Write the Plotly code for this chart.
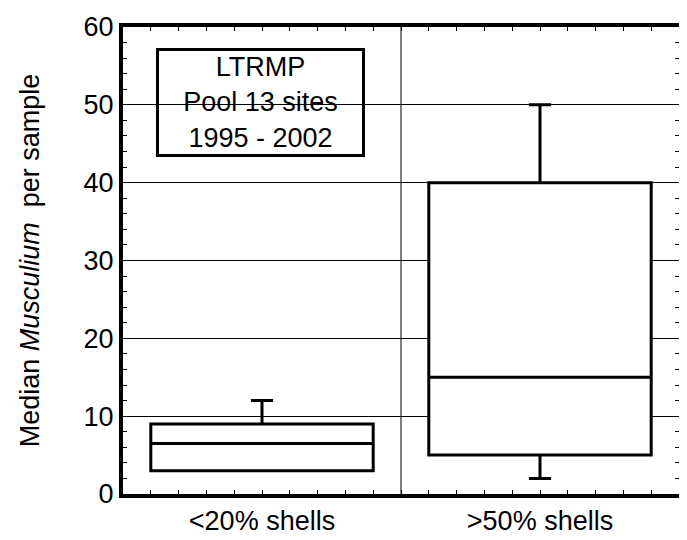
import plotly.graph_objects as go

# ---- data ----
categories = ["<20% shells", ">50% shells"]
x_pos = [0, 1]
q1_vals = [3, 5]
median_vals = [6.5, 15]
q3_vals = [9, 40]
lower_vals = [3, 2]
upper_vals = [12, 50]
y_ticks = [0, 10, 20, 30, 40, 50, 60]
group_boundary = 0.5
legend_text = "LTRMP<br>Pool 13 sites<br>1995 - 2002"

FONT = "Liberation Sans, Arial, sans-serif"
FS = 27

fig = go.Figure()
fig.add_trace(go.Box(
    x=x_pos,
    q1=q1_vals, median=median_vals, q3=q3_vals,
    lowerfence=lower_vals, upperfence=upper_vals,
    width=0.8,
    whiskerwidth=0.1,
    boxpoints=False,
    fillcolor="white",
    line=dict(color="black", width=3),
    showlegend=False,
    hoverinfo="skip",
))

fig.add_shape(type="line", xref="x", yref="paper",
              x0=group_boundary, x1=group_boundary, y0=0, y1=1,
              line=dict(color="black", width=1), layer="below")

fig.add_annotation(
    xref="paper", yref="paper", x=0.247, y=0.838,
    xanchor="center", yanchor="middle",
    text=legend_text, showarrow=False,
    font=dict(family=FONT, size=FS, color="black"),
    bordercolor="black", borderwidth=3, borderpad=2,
    width=199, height=99, bgcolor="rgba(0,0,0,0)",
)

# page body has an 8px margin, so the figure is sized to fit the window
fig.update_layout(
    width=679, height=532,
    margin=dict(l=115, r=4, t=15, b=42),
    paper_bgcolor="white", plot_bgcolor="white",
    font=dict(family=FONT, size=FS, color="black"),
)

fig.update_xaxes(
    range=[-0.5, 1.5],
    tickvals=x_pos, ticktext=categories,
    showgrid=False, zeroline=False,
    showline=True, linecolor="black", linewidth=4, mirror="allticks",
    ticks="inside", ticklen=4, tickcolor="black", tickwidth=1,
    minor=dict(tick0=0, dtick=0.1, ticks="inside", ticklen=4,
               tickcolor="black", tickwidth=1, showgrid=False),
    tickfont=dict(size=FS),
)

fig.update_yaxes(
    range=[0, 60],
    tickvals=y_ticks,
    showgrid=True, gridcolor="black", gridwidth=1,
    zeroline=False,
    showline=True, linecolor="black", linewidth=4, mirror="allticks",
    ticks="inside", ticklen=5, tickcolor="black", tickwidth=1,
    minor=dict(dtick=2, ticks="inside", ticklen=4,
               tickcolor="black", tickwidth=1, showgrid=False),
    tickfont=dict(size=FS),
    title=dict(text="Median <i>Musculium</i>  per sample",
               font=dict(size=FS), standoff=37),
)

fig.write_html("out.html")
